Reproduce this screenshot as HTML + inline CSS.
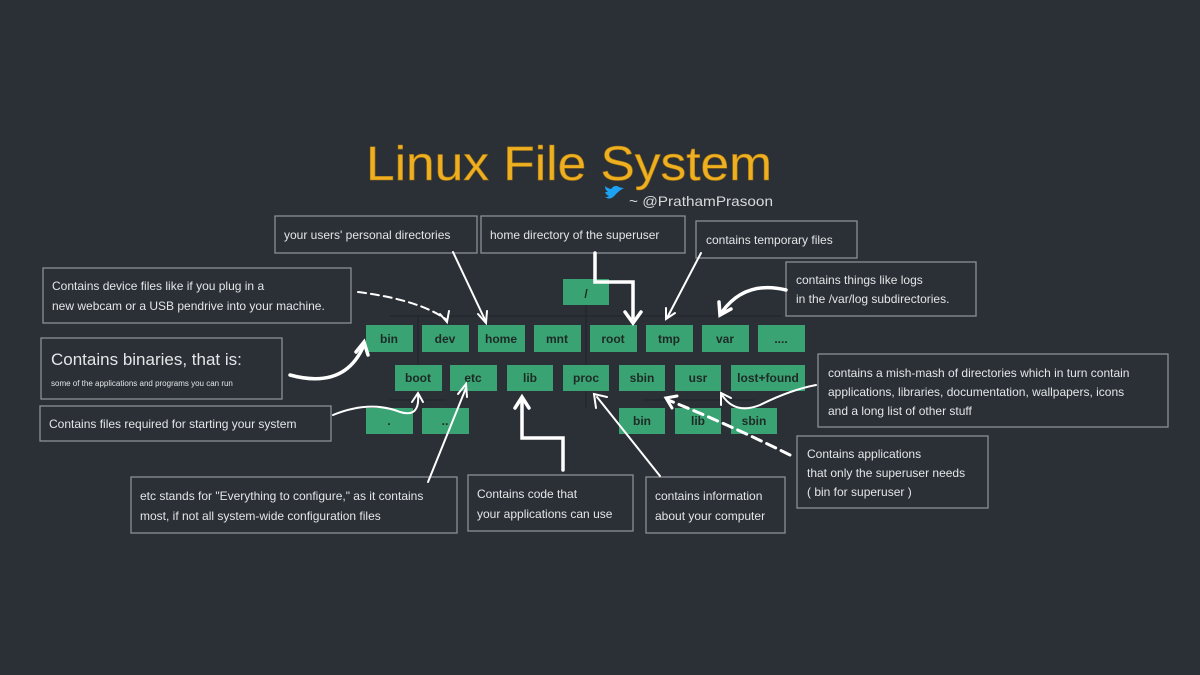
<!DOCTYPE html>
<html><head><meta charset="utf-8"><style>
body{margin:0;background:#2a3036;}
svg{display:block}
.b{fill:#3aa373}
.n{font-family:"Liberation Sans",sans-serif;font-weight:bold;font-size:12px;fill:#1e2a26;text-anchor:middle}
.bx{fill:none;stroke:#8a9096;stroke-width:1.3}
.t{font-family:"Liberation Sans",sans-serif;fill:#e4e6e8}
.a{fill:none;stroke:#fff;stroke-width:2;stroke-linecap:round}
.ln{stroke:#1f2428;stroke-width:1}
</style></head><body>
<svg width="1200" height="675" viewBox="0 0 1200 675" font-size="12">
<rect width="1200" height="675" fill="#2a3036"/>
<text x="366" y="180" textLength="406" lengthAdjust="spacingAndGlyphs" font-family="Liberation Sans,sans-serif" font-size="48" fill="#eeb021" stroke="#a87510" stroke-width="0.6">Linux File System</text>
<path d="M604 196 q6 6 12 -2 q4 -4 8 -6 q-3 0 -5 -1 q-4 -3 -8 2 q-4 -1 -6 -3 q0 4 3 6 q-2 0 -3 0 q1 3 4 4 q-3 2 -5 0z" fill="#1da1f2"/>
<text x="629" y="206" textLength="144" lengthAdjust="spacingAndGlyphs" font-family="Liberation Sans,sans-serif" font-size="14" fill="#d8dadc">~ @PrathamPrasoon</text>
<g class="ln">
<line x1="586" y1="305" x2="586" y2="408"/>
<line x1="390" y1="316" x2="782" y2="316"/>
<line x1="418" y1="316" x2="418" y2="365"/>
<line x1="390" y1="400" x2="446" y2="400"/>
<line x1="642" y1="400" x2="754" y2="400"/>
</g>
<g>
<rect class="b" x="563" y="279" width="46" height="26"/><text class="n" x="586" y="298">/</text>
<rect class="b" x="366" y="325" width="47" height="27"/><text class="n" x="389" y="343">bin</text>
<rect class="b" x="422" y="325" width="47" height="27"/><text class="n" x="445" y="343">dev</text>
<rect class="b" x="478" y="325" width="47" height="27"/><text class="n" x="501" y="343">home</text>
<rect class="b" x="534" y="325" width="47" height="27"/><text class="n" x="557" y="343">mnt</text>
<rect class="b" x="590" y="325" width="47" height="27"/><text class="n" x="613" y="343">root</text>
<rect class="b" x="646" y="325" width="47" height="27"/><text class="n" x="669" y="343">tmp</text>
<rect class="b" x="702" y="325" width="47" height="27"/><text class="n" x="725" y="343">var</text>
<rect class="b" x="758" y="325" width="47" height="27"/><text class="n" x="781" y="343">....</text>
<rect class="b" x="395" y="365" width="47" height="26"/><text class="n" x="418" y="382">boot</text>
<rect class="b" x="450" y="365" width="47" height="26"/><text class="n" x="473" y="382">etc</text>
<rect class="b" x="507" y="365" width="46" height="26"/><text class="n" x="530" y="382">lib</text>
<rect class="b" x="563" y="365" width="46" height="26"/><text class="n" x="586" y="382">proc</text>
<rect class="b" x="619" y="365" width="46" height="26"/><text class="n" x="642" y="382">sbin</text>
<rect class="b" x="675" y="365" width="46" height="26"/><text class="n" x="698" y="382">usr</text>
<rect class="b" x="731" y="365" width="74" height="26"/><text class="n" x="768" y="382">lost+found</text>
<rect class="b" x="366" y="408" width="47" height="26"/><text class="n" x="389" y="425">.</text>
<rect class="b" x="422" y="408" width="47" height="26"/><text class="n" x="445" y="425">..</text>
<rect class="b" x="619" y="408" width="46" height="26"/><text class="n" x="642" y="425">bin</text>
<rect class="b" x="675" y="408" width="46" height="26"/><text class="n" x="698" y="425">lib</text>
<rect class="b" x="731" y="408" width="46" height="26"/><text class="n" x="754" y="425">sbin</text>
</g>
<rect class="bx" x="275" y="216" width="202" height="37"/><text class="t" x="284" y="239">your users' personal directories</text>
<rect class="bx" x="481" y="216" width="204" height="37"/><text class="t" x="490" y="239">home directory of the superuser</text>
<rect class="bx" x="696" y="221" width="161" height="37"/><text class="t" x="706" y="244">contains temporary files</text>
<rect class="bx" x="43" y="268" width="308" height="55"/><text class="t" x="52" y="290">Contains device files like if you plug in a</text><text class="t" x="52" y="310">new webcam or a USB pendrive into your machine.</text>
<rect class="bx" x="786" y="262" width="190" height="54"/><text class="t" x="796" y="284">contains things like logs</text><text class="t" x="796" y="303">in the /var/log subdirectories.</text>
<rect class="bx" x="41" y="338" width="241" height="61"/><text class="t" x="51" y="365" font-size="17">Contains binaries, that is:</text><text class="t" x="51" y="386" font-size="8">some of the applications and programs you can run</text>
<rect class="bx" x="818" y="354" width="350" height="73"/><text class="t" x="828" y="377">contains a mish-mash of directories which in turn contain</text><text class="t" x="828" y="396">applications, libraries, documentation, wallpapers, icons</text><text class="t" x="828" y="415">and a long list of other stuff</text>
<rect class="bx" x="40" y="406" width="291" height="35"/><text class="t" x="49" y="428">Contains files required for starting your system</text>
<rect class="bx" x="797" y="436" width="191" height="72"/><text class="t" x="807" y="458">Contains applications</text><text class="t" x="807" y="477">that only the superuser needs</text><text class="t" x="807" y="496">( bin for superuser )</text>
<rect class="bx" x="131" y="477" width="326" height="56"/><text class="t" x="140" y="500">etc stands for "Everything to configure," as it contains</text><text class="t" x="140" y="520">most, if not all system-wide configuration files</text>
<rect class="bx" x="468" y="475" width="165" height="56"/><text class="t" x="477" y="498">Contains code that</text><text class="t" x="477" y="518">your applications can use</text>
<rect class="bx" x="646" y="477" width="139" height="56"/><text class="t" x="655" y="500">contains information</text><text class="t" x="655" y="520">about your computer</text>
<g class="a">
<path d="M358 292 Q420 300 447 320" stroke-dasharray="8 5"/><path d="M440 314 L447 322 L449 311"/>
<path d="M453 252 L486 322"/><path d="M478 314 L486 323 L487 311"/>
<path d="M595 253 L595 282 L633 282 L633 318" stroke-width="3.5"/><path d="M625 312 L633 323 L641 312" stroke-width="3.5"/>
<path d="M701 253 L667 318"/><path d="M666 308 L666 319 L675 313"/>
<path d="M786 290 Q745 280 722 312" stroke-width="3.5"/><path d="M719 302 L720 315 L731 309" stroke-width="3.5"/>
<path d="M290 375 Q345 390 364 345" stroke-width="3.5"/><path d="M356 352 L364 342 L368 355" stroke-width="3.5"/>
<path d="M333 415 Q370 400 400 412 Q420 418 418 395"/><path d="M412 402 L418 393 L423 402"/>
<path d="M428 482 L466 388"/><path d="M458 394 L466 384 L467 397"/>
<path d="M563 470 L563 438 L522 438 L522 400" stroke-width="3.5"/><path d="M515 408 L522 397 L529 408" stroke-width="3.5"/>
<path d="M660 476 L597 397"/><path d="M596 408 L594 394 L607 397"/>
<path d="M790 455 Q730 425 668 400" stroke-width="3" stroke-dasharray="10 6"/><path d="M677 396 L666 398 L672 408" stroke-width="3"/>
<path d="M816 385 Q790 390 760 405 Q735 415 722 395"/><path d="M721 405 L721 393 L731 398"/>
</g>
</svg>
</body></html>
